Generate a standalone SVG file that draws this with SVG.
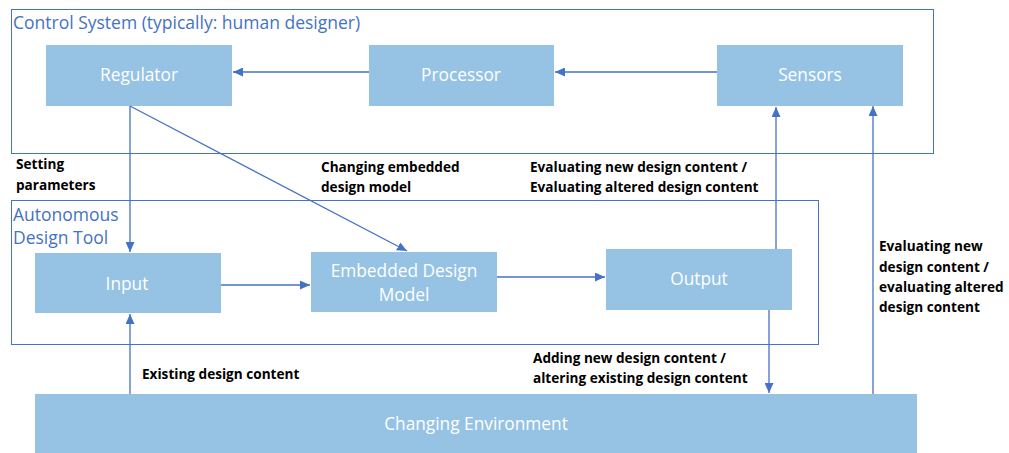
<svg xmlns="http://www.w3.org/2000/svg" width="1009" height="453" viewBox="0 0 1009 453">
  <style>
    .frame { fill: none; stroke: #4472C4; stroke-width: 1; }
    .frame-title { font-family: "Open Sans", "Liberation Sans", sans-serif; font-size: 17.5px; fill: #4472C4; }
    .box { fill: #96C3E4; }
    .box-text { font-family: "Open Sans", "Liberation Sans", sans-serif; font-size: 17.3px; fill: #FFFFFF; text-anchor: middle; }
    .edge { fill: none; stroke: #4472C4; stroke-width: 1.3; marker-end: url(#arrow); }
    .label { font-family: "Open Sans", "Liberation Sans", sans-serif; font-size: 13.6px; font-weight: bold; fill: #000000; }
  </style>
  <defs>
    <marker id="arrow" viewBox="0 0 10 10" refX="10" refY="5" markerWidth="10" markerHeight="9" markerUnits="userSpaceOnUse" orient="auto" preserveAspectRatio="none">
      <path d="M0,0 L10,5 L0,10 z" fill="#4472C4"/>
    </marker>
  </defs>
  <rect width="1009" height="453" fill="#FFFFFF"/>

  <!-- container frames -->
  <g id="control-system">
    <rect class="frame" x="11.5" y="9.5" width="922" height="144"/>
    <text class="frame-title" x="13" y="29">Control System (typically: human designer)</text>
  </g>
  <g id="design-tool">
    <rect class="frame" x="11.5" y="200.5" width="807" height="144"/>
    <text class="frame-title" x="13" y="221">Autonomous</text>
    <text class="frame-title" x="13" y="244">Design Tool</text>
  </g>

  <!-- nodes -->
  <g id="regulator">
    <rect class="box" x="46" y="45" width="186" height="61"/>
    <text class="box-text" x="139" y="81">Regulator</text>
  </g>
  <g id="processor">
    <rect class="box" x="369" y="45" width="185" height="61"/>
    <text class="box-text" x="461" y="81">Processor</text>
  </g>
  <g id="sensors">
    <rect class="box" x="717" y="45" width="186" height="61"/>
    <text class="box-text" x="810" y="81">Sensors</text>
  </g>
  <g id="input">
    <rect class="box" x="35" y="253" width="186" height="60"/>
    <text class="box-text" x="127" y="290">Input</text>
  </g>
  <g id="embedded-model">
    <rect class="box" x="311" y="252" width="186" height="60"/>
    <text class="box-text" x="404" y="277">Embedded Design</text>
    <text class="box-text" x="404" y="300.5">Model</text>
  </g>
  <g id="output">
    <rect class="box" x="606" y="249" width="186" height="61"/>
    <text class="box-text" x="699" y="285">Output</text>
  </g>
  <g id="environment">
    <rect class="box" x="35" y="394" width="882" height="59"/>
    <text class="box-text" x="476" y="430">Changing Environment</text>
  </g>

  <!-- connectors -->
  <g id="connectors">
    <line class="edge" x1="369" y1="72" x2="233" y2="72"/>
    <line class="edge" x1="717" y1="72" x2="555" y2="72"/>
    <line class="edge" x1="130" y1="106" x2="130" y2="252"/>
    <line class="edge" x1="130" y1="106" x2="407" y2="251"/>
    <line class="edge" x1="221" y1="285" x2="310" y2="285"/>
    <line class="edge" x1="497" y1="277" x2="605" y2="277"/>
    <line class="edge" x1="776" y1="249" x2="776" y2="107"/>
    <line class="edge" x1="769" y1="310" x2="769" y2="393"/>
    <line class="edge" x1="873" y1="394" x2="873" y2="106"/>
    <line class="edge" x1="130" y1="394" x2="130" y2="314"/>
  </g>

  <!-- connector labels -->
  <g id="labels">
    <text class="label" x="16" y="169">Setting</text>
    <text class="label" x="16" y="190">parameters</text>
    <text class="label" x="321" y="171.5">Changing embedded</text>
    <text class="label" x="321" y="191.5">design model</text>
    <text class="label" x="530" y="171.5">Evaluating new design content /</text>
    <text class="label" x="530" y="191.5">Evaluating altered design content</text>
    <text class="label" x="879" y="250.5">Evaluating new</text>
    <text class="label" x="879" y="271.5">design content /</text>
    <text class="label" x="879" y="291.5">evaluating altered</text>
    <text class="label" x="879" y="312">design content</text>
    <text class="label" x="142" y="379">Existing design content</text>
    <text class="label" x="533" y="363">Adding new design content /</text>
    <text class="label" x="533" y="383">altering existing design content</text>
  </g>
</svg>
